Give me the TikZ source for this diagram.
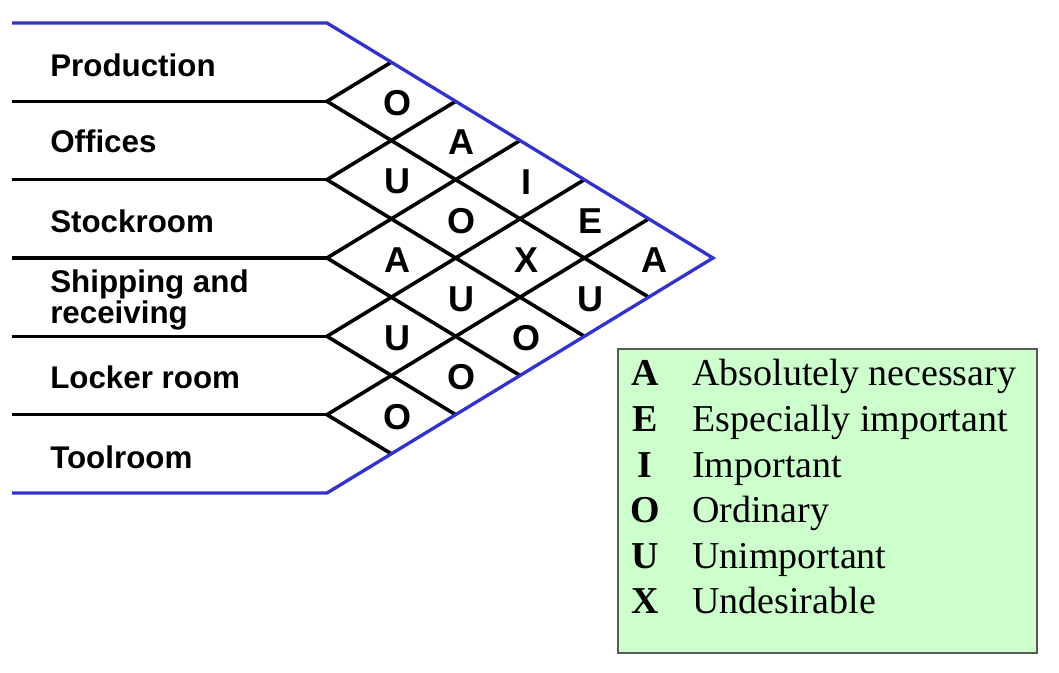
\documentclass[tikz,border=0pt]{standalone}
\usepackage{fontspec}
\setmainfont{Liberation Sans}
\newfontfamily\legfont{Liberation Serif}
\definecolor{relblue}{RGB}{51,51,204}
\definecolor{legbg}{RGB}{204,255,204}
\begin{document}
\begin{tikzpicture}[x=0.75pt,y=-0.75pt,
  gridline/.style={line width=2.7pt, black},
  bound/.style={line width=2.5pt, relblue, line join=miter},
  dept/.style={anchor=base west, inner sep=0pt, font=\fontsize{23.5}{24}\selectfont\bfseries},
  rel/.style={inner sep=0pt, font=\fontsize{27}{27}\selectfont\bfseries},
  legkey/.style={anchor=base, inner sep=0pt, font=\legfont\fontsize{28.5}{30}\selectfont\bfseries},
  legtext/.style={anchor=base west, inner sep=0pt, font=\legfont\fontsize{28.5}{30}\selectfont},
  legbox/.style={draw=black!65, line width=0.9pt, fill=legbg, inner sep=0pt, outer sep=0pt}
]
\useasboundingbox (0,0) rectangle (1059,673);

% row end points
\foreach \k in {0,...,6}{
  \coordinate (L\k) at (12, {23+78.333*\k});
  \coordinate (V\k) at (327, {23+78.333*\k});
}
\coordinate (T) at (713,258);
\foreach \k in {1,...,5}{
  \coordinate (U\k) at ({327+64.333*\k}, {23+39.167*\k});
  \coordinate (D\k) at ({327+64.333*(6-\k)}, {493-39.167*(6-\k)});
}

% grid
\foreach \k in {1,...,5}{
  \draw[gridline] (L\k) -- (V\k);
  \draw[gridline] (U\k) -- (V\k) -- (D\k);
}
% boundary
\draw[bound] (L0) -- (V0) -- (T) -- (V6) -- (L6);

% department labels
\node[dept] (prod) at (50,76.5) {Production};
\node[dept] (off) at (50,152.5) {Offices};
\node[dept] (stock) at (50,233) {Stockroom};
\node[dept] (ship1) at (50,293) {Shipping and};
\node[dept] (ship2) at (50,324) {receiving};
\node[dept] (lock) at (50,388) {Locker room};
\node[dept] (tool) at (50,468) {Toolroom};

% relationship letters
\foreach \i/\j/\l in {0/1/O,0/2/A,0/3/I,0/4/E,0/5/A,
                      1/2/U,1/3/O,1/4/X,1/5/U,
                      2/3/A,2/4/U,2/5/O,
                      3/4/U,3/5/O,
                      4/5/O}{
  \node[rel] (c\i\j) at ({327+64.333*(\j-\i)+6}, {23+39.167*(\i+\j+1)+2}) {\l};
}

% legend
\node[legbox, anchor=north west, minimum width=314.25pt, minimum height=228pt] (legend) at (618,349) {};
\foreach \y/\k/\t [count=\n] in {385/A/Absolutely necessary,
                    431/E/Especially important,
                    477/I/Important,
                    522/O/Ordinary,
                    568/U/Unimportant,
                    613/X/Undesirable}{
  \node[legkey] (key\n) at (645,\y) {\k};
  \node[legtext] (txt\n) at (692,\y) {\t};
}
\end{tikzpicture}
\end{document}
